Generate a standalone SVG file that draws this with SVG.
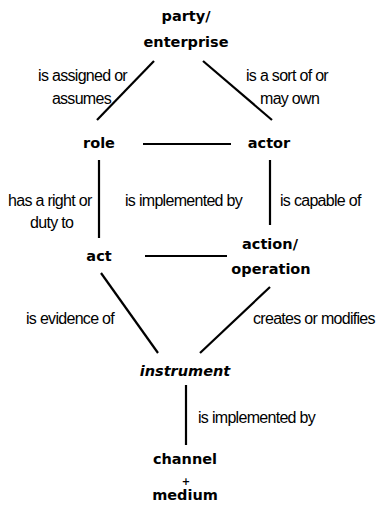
<svg xmlns="http://www.w3.org/2000/svg" width="378" height="520" viewBox="0 0 378 520">
<style>
.n{font-family:"DejaVu Sans",sans-serif;font-weight:bold;font-size:14.5px;fill:#000;text-anchor:middle}
.l{font-family:"Liberation Sans",Arial,sans-serif;font-size:16px;fill:#000;letter-spacing:-0.7px}
.c line{stroke:#000;stroke-width:2.2}
</style>
<rect width="378" height="520" fill="#fff"/>
<g class="c" id="connectors">
<line x1="154" y1="61" x2="97" y2="120"/>
<line x1="203" y1="61" x2="272" y2="120"/>
<line x1="143" y1="144" x2="231" y2="144"/>
<line x1="99" y1="160" x2="99" y2="238"/>
<line x1="270" y1="160" x2="270" y2="225"/>
<line x1="145" y1="256" x2="227" y2="256"/>
<line x1="101" y1="273" x2="158" y2="353"/>
<line x1="270" y1="287" x2="200" y2="353"/>
<line x1="186" y1="385" x2="186" y2="445"/>
</g>
<g id="labels">
<text class="l" x="127" y="81" text-anchor="end">is assigned or</text>
<text class="l" x="111" y="104" text-anchor="end">assumes</text>
<text class="l" x="246" y="81">is a sort of or</text>
<text class="l" x="260" y="104">may own</text>
<text class="l" x="8" y="206">has a right or</text>
<text class="l" x="30" y="228">duty to</text>
<text class="l" x="125" y="206">is implemented by</text>
<text class="l" x="280" y="206">is capable of</text>
<text class="l" x="26" y="324">is evidence of</text>
<text class="l" x="253" y="324">creates or modifies</text>
<text class="l" x="198" y="423">is implemented by</text>
</g>
<g id="party"><text class="n" x="186" y="21">party/</text><text class="n" x="186" y="47">enterprise</text></g>
<g id="role"><text class="n" x="99" y="148">role</text></g>
<g id="actor"><text class="n" x="269" y="148">actor</text></g>
<g id="act"><text class="n" x="99" y="261">act</text></g>
<g id="action"><text class="n" x="270" y="249">action/</text><text class="n" x="271" y="274">operation</text></g>
<g id="instrument"><text class="n" x="185" y="376" font-style="italic">instrument</text></g>
<g id="channel"><text class="n" x="185" y="464">channel</text><text class="n" x="186" y="485" style="font-size:10px">+</text><text class="n" x="185" y="500">medium</text></g>
</svg>
